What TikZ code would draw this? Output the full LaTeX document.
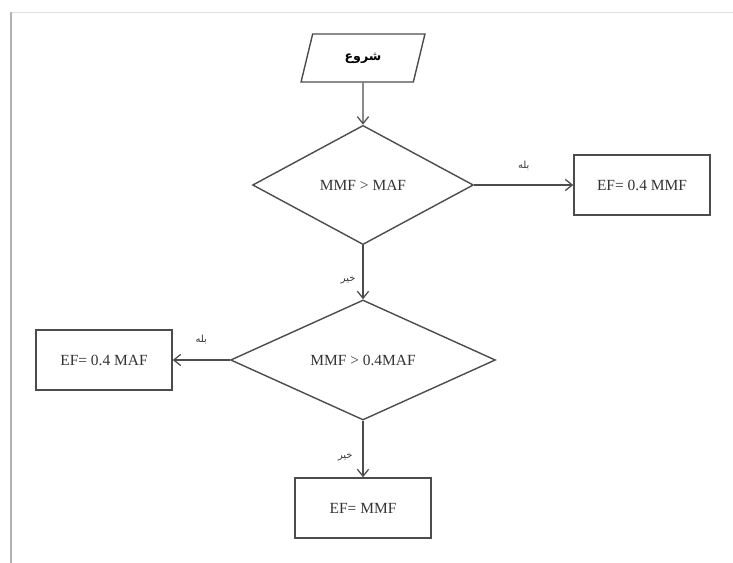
\documentclass[tikz,border=0pt]{standalone}
\usepackage{fontspec}
\setmainfont{Liberation Serif}
\newfontfamily\arabicfont[Script=Arabic]{DejaVu Sans}
\TeXXeTstate=1
\usetikzlibrary{shapes.geometric,arrows.meta}
\tikzset{
	box/.style={draw=black!70,line width=1pt,minimum width=3.4cm,minimum height=1.5cm,font=\fontsize{11}{13}\selectfont,text=black!80},
	decision/.style={diamond,draw=black!70,line width=1pt,aspect=2,inner sep=0pt,font=\fontsize{11}{13}\selectfont,text=black!80},
	startbox/.style={trapezium,trapezium left angle=75,trapezium right angle=105,trapezium stretches=true,draw=black!70,line width=1pt,minimum width=3.1cm,minimum height=1.2cm,font=\arabicfont\bfseries\fontsize{9}{11}\selectfont},
	flow/.style={draw=black!70,line width=0.9pt,-{Straight Barb[length=5pt,width=8pt]}},
	lbl/.style={font=\arabicfont\fontsize{7}{8}\selectfont,text=black!80,inner sep=1pt},
}
\begin{document}
\begin{tikzpicture}[x=0.025cm,y=-0.025cm]
	\useasboundingbox (0,0) rectangle (733,563);
	% page edge
	\draw[black!12,line width=0.6pt] (11,12) -- (733,12);
	\draw[black!30,line width=1.8pt] (11,12) -- (11,563);
	% shapes
	\node[startbox] (start) at (363,58) {\beginR شروع\endR};
	\node[decision,minimum width=5.52cm,minimum height=2.98cm] (test1) at (363,185) {MMF > MAF};
	\node[box] (ef1) at (642,185) {EF= 0.4 MMF};
	\node[decision,minimum width=6.62cm,minimum height=3cm] (test2) at (363,360) {MMF > 0.4MAF};
	\node[box] (ef2) at (104,360) {EF= 0.4 MAF};
	\node[box] (ef3) at (363,508) {EF= MMF};
	% arrows
	\draw[flow] (start) -- (test1);
	\draw[flow] (test1.east) -- node[lbl,above=9pt] {\beginR بله\endR} (ef1.west);
	\draw[flow] (test1.south) -- node[lbl,pos=0.65,left=4pt] {\beginR خیر\endR} (test2.north);
	\draw[flow] (test2.west) -- node[lbl,above=10pt] {\beginR بله\endR} (ef2.east);
	\draw[flow] (test2.south) -- node[lbl,pos=0.65,left=6pt] {\beginR خیر\endR} (ef3.north);
\end{tikzpicture}
\end{document}
